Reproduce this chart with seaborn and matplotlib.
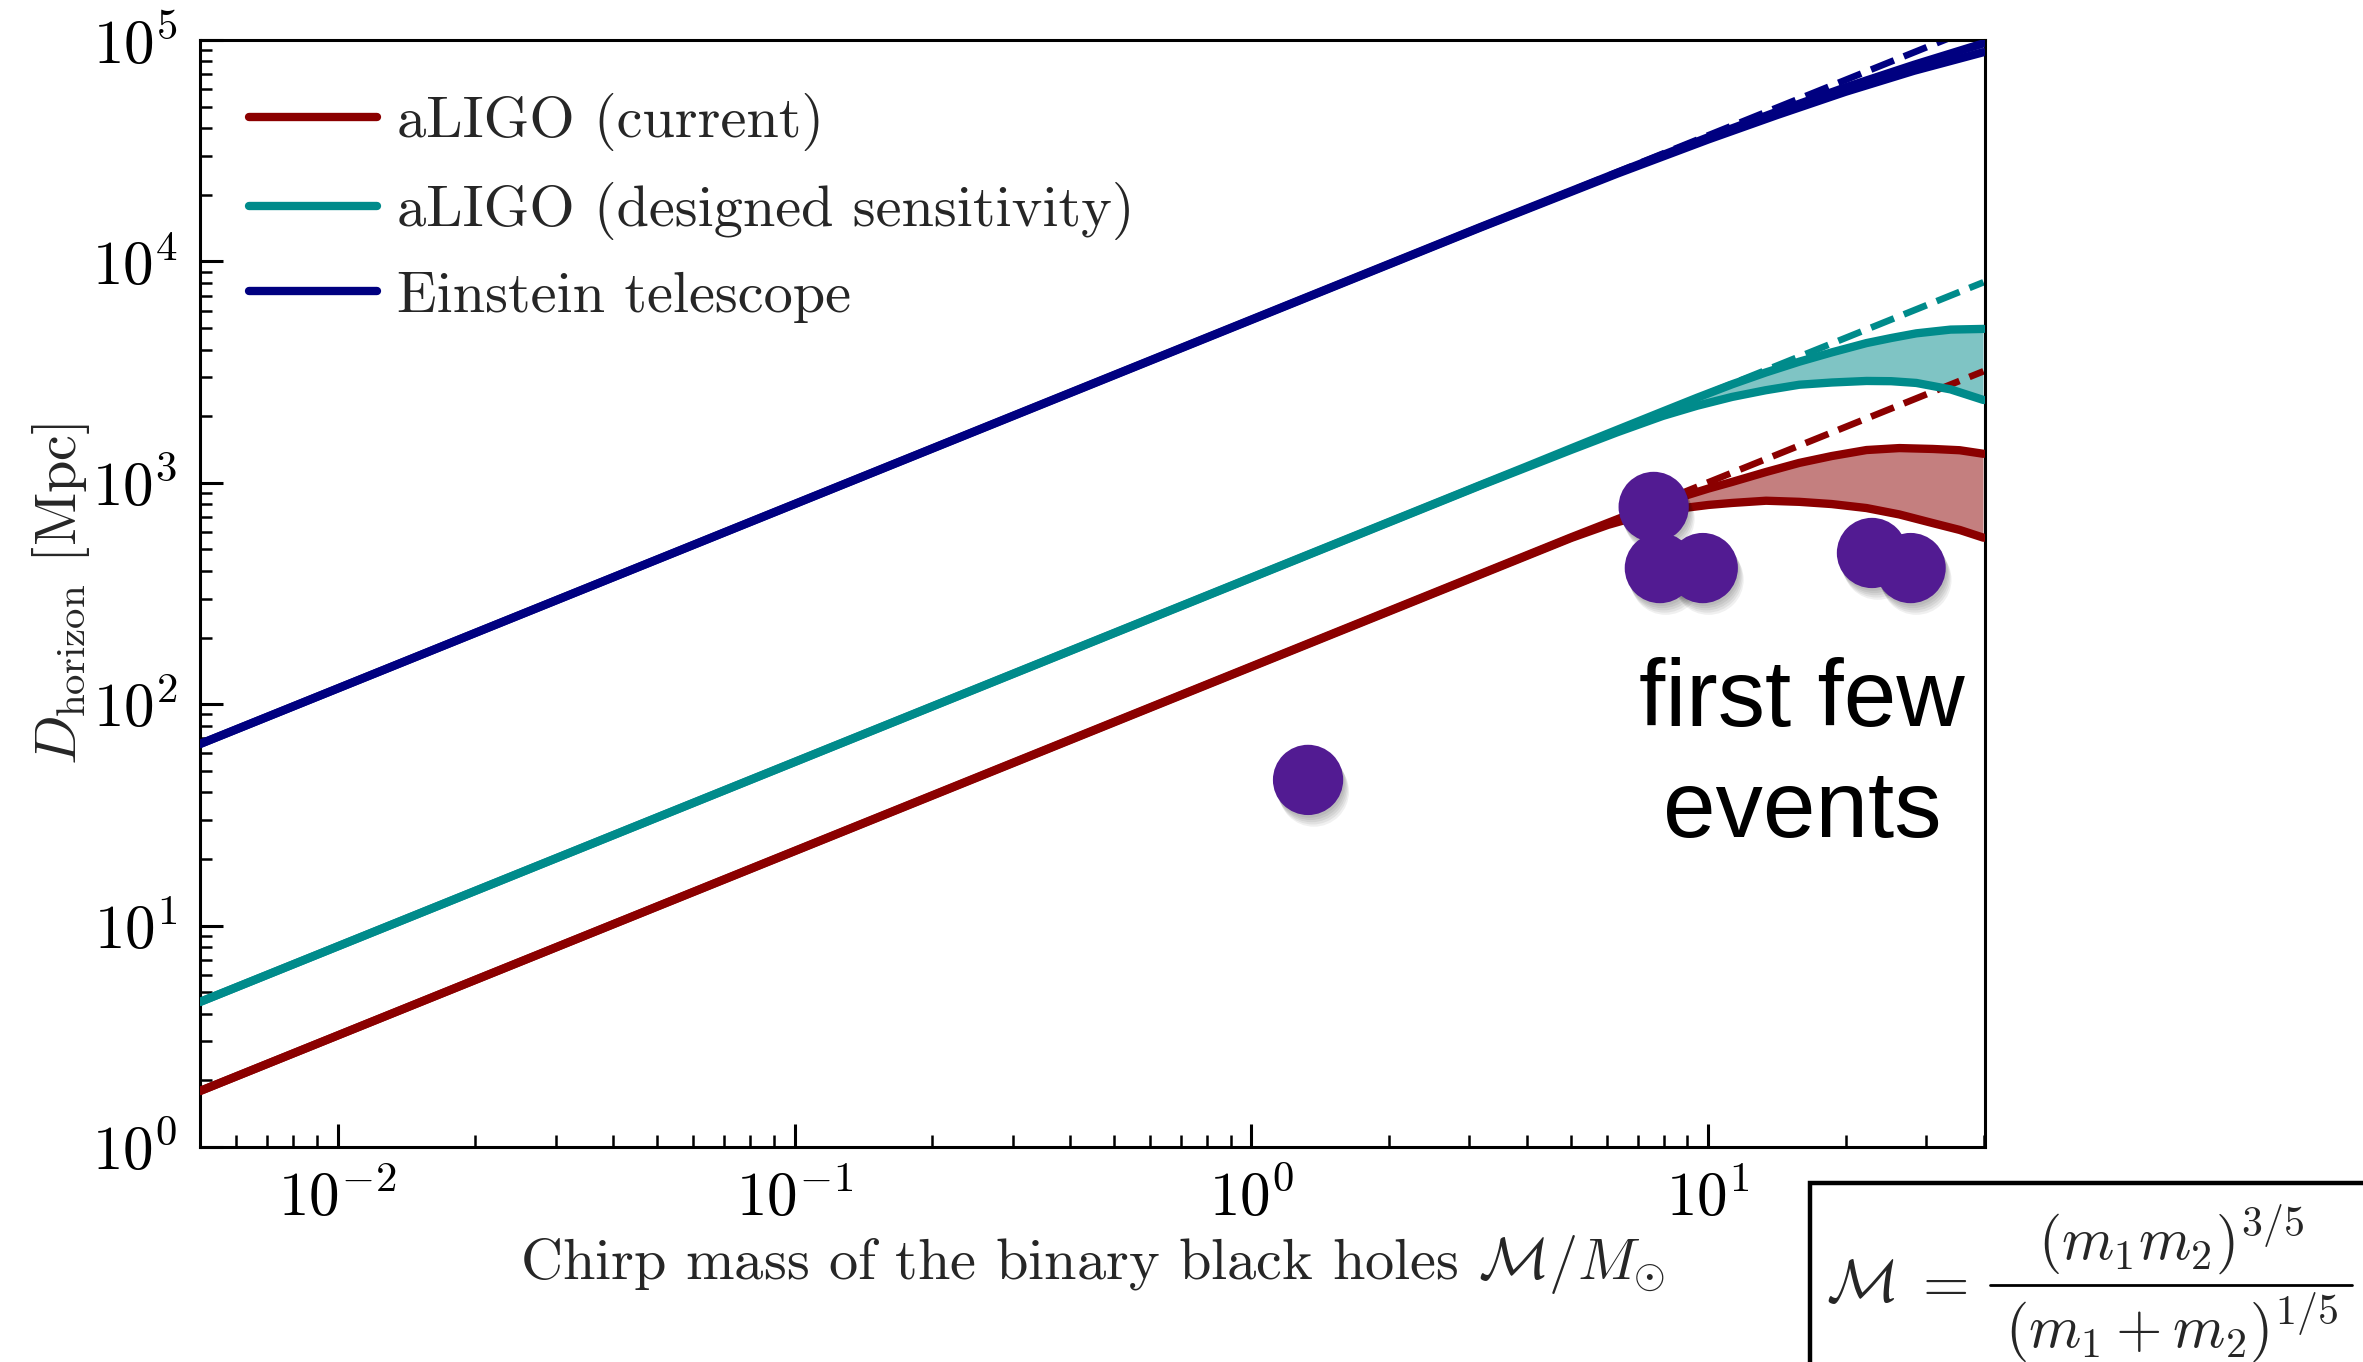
import numpy as np
import matplotlib
matplotlib.use("Agg")
import matplotlib.pyplot as plt
import matplotlib.patheffects as pe
from matplotlib.patches import Rectangle
from matplotlib.lines import Line2D
import seaborn as sns

# ---------------- data ----------------
labels = ["aLIGO (current)", "aLIGO (designed sensitivity)", "Einstein telescope"]
colors = ["#8B0000", "#008B8B", "#000080"]

# dashed inspiral-only power laws
dash_x = [0.005, 40.0]
red_dash_y = [1.79, 3190.0]
teal_dash_y = [4.52, 8050.0]
et_dash_y = [66.1, 117800.0]

# aLIGO (current) band
red_x = [0.005, 5.01, 6.03, 7.08, 7.94, 8.91, 10.0, 11.27, 13.37, 15.81,
         18.62, 22.18, 26.18, 30.97, 35.48, 40.0]
red_up = [1.79, 567.5, 659.2, 749.9, 812.8, 875.0, 941.9, 1009, 1119, 1230,
          1321, 1406, 1435, 1422, 1403, 1352]
red_lo = [1.79, 563.6, 645.7, 709.6, 744.7, 770.9, 794.3, 811.0, 829.9, 820.4,
          801.7, 769.1, 719.5, 657.7, 612.4, 564.9]

# aLIGO (designed sensitivity) band
teal_x = [0.005, 3.162, 3.981, 5.012, 6.310, 7.943, 9.441, 11.27, 13.34, 15.81,
          18.62, 22.18, 25.12, 28.51, 33.88, 40.0]
teal_up = [4.52, 975, 1180, 1432, 1734, 2099, 2421, 2786, 3148, 3524,
           3882, 4276, 4508, 4732, 4920, 4955]
teal_lo = [4.52, 970.5, 1169.5, 1409, 1690, 2004, 2228, 2443, 2618, 2773,
           2838, 2884, 2877, 2825, 2642, 2366]

# Einstein telescope band
et_x = [0.005, 3.162, 6.310, 10.0, 14.13, 19.95, 28.18, 40.0]
et_up = [66.1, 14260, 25120, 36390, 47420, 61090, 77270, 96600]
et_lo = [66.1, 14190, 24890, 35560, 45810, 58340, 72610, 88100]

# detected events (chirp mass, distance)
ev_x = [27.7, 22.8, 9.72, 7.83, 7.59, 1.33]
ev_y = [412, 482, 412, 412, 778, 45.5]

xticks = [1e-2, 1e-1, 1e0, 1e1]
yticks = [1e0, 1e1, 1e2, 1e3, 1e4, 1e5]

# ---------------- style ----------------
sns.set_style("white")
plt.rcParams["font.family"] = ["cmr10", "DejaVu Serif"]
plt.rcParams["mathtext.fontset"] = "cm"
plt.rcParams["axes.formatter.use_mathtext"] = True
plt.rcParams["axes.unicode_minus"] = True

W, H = 2363, 1362
fig = plt.figure(figsize=(W / 200, H / 200), dpi=200)
ax = fig.add_axes([200 / W, 1 - 1147 / H, 1785 / W, 1107 / H])
ax.set_xscale("log")
ax.set_yscale("log")

lw = 3.0
bands = [(red_x, red_up, red_lo, red_dash_y),
         (teal_x, teal_up, teal_lo, teal_dash_y),
         (et_x, et_up, et_lo, et_dash_y)]
handles = []
for (bx, bu, bl, dy), c, lab in zip(bands, colors, labels):
    ax.fill(np.concatenate([bx, bx[::-1]]), np.concatenate([bu, bl[::-1]]),
            color=c, alpha=0.5, lw=0, zorder=1)
    sns.lineplot(x=dash_x, y=dy, ax=ax, color=c, lw=2.4, linestyle="--",
                 estimator=None, sort=False, zorder=2)
    sns.lineplot(x=bx, y=bl, ax=ax, color=c, lw=lw, estimator=None,
                 sort=False, zorder=3)
    sns.lineplot(x=bx, y=bu, ax=ax, color=c, lw=lw, estimator=None,
                 sort=False, zorder=3)
    handles.append(ax.get_lines()[-1])

shadow = [pe.SimplePatchShadow(offset=(o * 0.5, -o), shadow_rgbFace="k", alpha=0.06)
          for o in (1.0, 1.8, 2.6, 3.4, 4.2)] + [pe.Normal()]
sns.scatterplot(x=ev_x, y=ev_y, ax=ax, s=640, color="#521B92",
                edgecolor="none", linewidth=0, zorder=5)
for coll in ax.collections:
    if coll.get_offsets().shape[0] == len(ev_x):
        coll.set_path_effects(shadow)

ax.set_xlim(0.005, 40.3)
ax.set_ylim(1, 1e5)
ax.set_xticks(xticks)
ax.set_yticks(yticks)

ax.tick_params(which="both", direction="in", bottom=True, left=True,
               top=False, right=False, labelsize=22, pad=8, colors="k")
ax.tick_params(which="major", length=8.3, width=1.1)
ax.tick_params(which="minor", length=4.3, width=0.9)
for s in ax.spines.values():
    s.set_linewidth(1.1)
    s.set_color("k")

ax.set_xlabel(r"Chirp mass of the binary black holes $\mathcal{M}/M_{\odot}$",
              fontsize=21, labelpad=2)
ax.set_ylabel(r"$D_{\rm horizon}$ [Mpc]", fontsize=21, labelpad=0)

ax.legend(handles, labels, loc="upper left", bbox_to_anchor=(0.0275, 0.952),
          frameon=False, fontsize=21, handlelength=2.2, handletextpad=0.33,
          labelspacing=0.53, borderpad=0, borderaxespad=0)

fig.text(1802 / W, 1 - 757 / H, "first few\nevents", ha="center", va="center",
         multialignment="center", fontsize=34, family="Liberation Sans",
         color="k", linespacing=1.32)

# chirp-mass definition box (outside the axes, bottom right)
fig.add_artist(Rectangle((1810 / W, -0.2), 0.5, 0.2 + (1 - 1183 / H),
                         transform=fig.transFigure, fill=False, lw=1.6,
                         edgecolor="k", clip_on=False))
fs_f = 21.5
fig.text(1826 / W, 1 - 1287 / H, r"$\mathcal{M}\;=$", ha="left", va="center",
         fontsize=fs_f)
fig.text(2171 / W, 1 - 1276 / H, r"$(m_1 m_2)^{3/5}$", ha="center", va="bottom",
         fontsize=fs_f)
fig.add_artist(Line2D([1990 / W, 2352 / W], [1 - 1285 / H, 1 - 1285 / H],
                      transform=fig.transFigure, color="k", lw=1.0))
fig.text(2172 / W, 1 - 1290 / H, r"$(m_1 + m_2)^{1/5}$", ha="center", va="top",
         fontsize=fs_f)

fig.savefig("out.png", dpi=200, facecolor="white")
